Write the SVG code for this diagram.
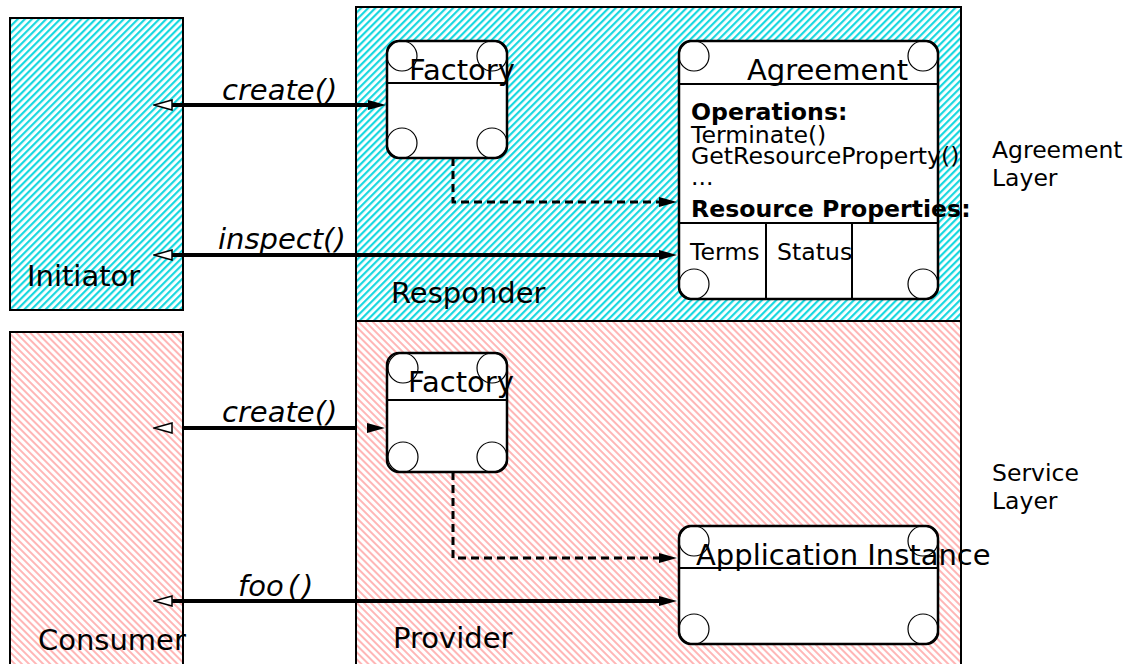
<svg xmlns="http://www.w3.org/2000/svg" width="1132" height="664" viewBox="0 0 1132 664">
<defs>
<pattern id="cyan" patternUnits="userSpaceOnUse" width="5" height="5" patternTransform="rotate(45)">
<rect x="0" y="0" width="5" height="5" fill="#ffffff"/>
<rect x="0" y="0" width="2.2" height="5" fill="#19d7df"/>
</pattern>
<pattern id="pink" patternUnits="userSpaceOnUse" width="5" height="5" patternTransform="rotate(-45)">
<rect x="0" y="0" width="5" height="5" fill="#ffffff"/>
<rect x="0" y="0" width="2" height="5" fill="#ffb6b6"/>
</pattern>
<marker id="filled" viewBox="0 0 18 10" refX="0" refY="5" markerWidth="18" markerHeight="10" markerUnits="userSpaceOnUse" orient="auto">
<path d="M0,0 L18,5 L0,10 z" fill="#000"/>
</marker>
<marker id="open" viewBox="-1 -1 20 12" refX="0" refY="5" markerWidth="20" markerHeight="12" markerUnits="userSpaceOnUse" orient="auto-start-reverse">
<path d="M0,0 L18,5 L0,10 z" fill="#fff" stroke="#000" stroke-width="1.5"/>
</marker>
</defs>
<style>
text{font-family:"DejaVu Sans","Verdana",sans-serif;fill:#000}
.big{font-size:29px}
.mid{font-size:23.6px}
.lbl{font-size:23.5px}
.bold{font-weight:bold}
.it{font-style:italic;font-size:29px}
.layer{stroke:#000;stroke-width:2}
.node{fill:#fff;stroke:#000;stroke-width:2.5}
.sep{stroke:#000;stroke-width:2}
.corner{fill:none;stroke:#000;stroke-width:1.2}
.call{fill:none;stroke:#000;stroke-width:4}
.dash{fill:none;stroke:#000;stroke-width:3;stroke-dasharray:8 5}
</style>

<g id="initiator">
<rect class="layer" x="10" y="18" width="173" height="292" fill="url(#cyan)"/>
<text class="big" x="27" y="286">Initiator</text>
</g>
<g id="responder">
<rect class="layer" x="356" y="7" width="605" height="314" fill="url(#cyan)"/>
<text class="big" x="391" y="303">Responder</text>
</g>
<g id="consumer">
<rect class="layer" x="10" y="332" width="173" height="340" fill="url(#pink)"/>
<text class="big" x="38" y="650">Consumer</text>
</g>
<g id="provider">
<rect class="layer" x="356" y="321" width="605" height="350" fill="url(#pink)"/>
<text class="big" x="393" y="648">Provider</text>
</g>

<g id="factory-agreement">
<rect class="node" x="387" y="41" width="120" height="117" rx="12"/>
<line class="sep" x1="387" y1="83" x2="507" y2="83"/>
<circle class="corner" cx="402" cy="56" r="15"/>
<circle class="corner" cx="492" cy="56" r="15"/>
<circle class="corner" cx="402" cy="143" r="15"/>
<circle class="corner" cx="492" cy="143" r="15"/>
<text class="big" x="409" y="80">Factory</text>
</g>

<g id="agreement">
<rect class="node" x="679" y="41" width="259" height="258" rx="12"/>
<line class="sep" x1="679" y1="84" x2="938" y2="84"/>
<line class="sep" x1="679" y1="223" x2="938" y2="223"/>
<line class="sep" x1="766" y1="223" x2="766" y2="299"/>
<line class="sep" x1="852" y1="223" x2="852" y2="299"/>
<circle class="corner" cx="694" cy="56" r="15"/>
<circle class="corner" cx="923" cy="56" r="15"/>
<circle class="corner" cx="694" cy="284" r="15"/>
<circle class="corner" cx="923" cy="284" r="15"/>
<text class="big" x="747" y="80">Agreement</text>
<text class="mid bold" x="691" y="120">Operations:</text>
<text class="mid" x="691" y="143">Terminate()</text>
<text class="mid" x="691" y="164">GetResourceProperty()</text>
<text class="mid" x="691" y="185">...</text>
<text class="mid bold" x="691" y="217">Resource Properties:</text>
<text class="mid" x="690" y="260">Terms</text>
<text class="mid" x="777" y="260">Status</text>
</g>

<g id="factory-service">
<rect class="node" x="387" y="353" width="120" height="119" rx="12"/>
<line class="sep" x1="387" y1="400" x2="507" y2="400"/>
<circle class="corner" cx="403" cy="368" r="15"/>
<circle class="corner" cx="492" cy="368" r="15"/>
<circle class="corner" cx="403" cy="457" r="15"/>
<circle class="corner" cx="492" cy="457" r="15"/>
<text class="big" x="408" y="392">Factory</text>
</g>

<g id="application-instance">
<rect class="node" x="679" y="526" width="259" height="118" rx="12"/>
<line class="sep" x1="679" y1="568" x2="938" y2="568"/>
<circle class="corner" cx="694" cy="541" r="15"/>
<circle class="corner" cx="923" cy="541" r="15"/>
<circle class="corner" cx="694" cy="629" r="15"/>
<circle class="corner" cx="923" cy="629" r="15"/>
<text class="big" x="696" y="565">Application Instance</text>
</g>

<g id="layer-labels">
<text class="lbl" x="992" y="158">Agreement</text>
<text class="lbl" x="992" y="186">Layer</text>
<text class="lbl" x="992" y="481">Service</text>
<text class="lbl" x="992" y="509">Layer</text>
</g>

<g id="connectors">
<line class="call" x1="172" y1="105" x2="368" y2="105" marker-start="url(#open)" marker-end="url(#filled)"/>
<text class="it" x="222" y="100">create()</text>
<line class="call" x1="172" y1="255" x2="659" y2="255" marker-start="url(#open)" marker-end="url(#filled)"/>
<text class="it" x="218" y="249">inspect()</text>
<line class="call" x1="172" y1="428" x2="367" y2="428" stroke-dasharray="0 11 173 100" marker-start="url(#open)" marker-end="url(#filled)"/>
<text class="it" x="222" y="422">create()</text>
<line class="call" x1="172" y1="601" x2="659" y2="601" marker-start="url(#open)" marker-end="url(#filled)"/>
<text class="it" x="238" y="596">foo<tspan dx="4">(</tspan><tspan dx="3">)</tspan></text>
<path class="dash" d="M453,158 L453,202 L659,202" marker-end="url(#filled)"/>
<path class="dash" d="M453,472 L453,558 L659,558" marker-end="url(#filled)"/>
</g>
</svg>
